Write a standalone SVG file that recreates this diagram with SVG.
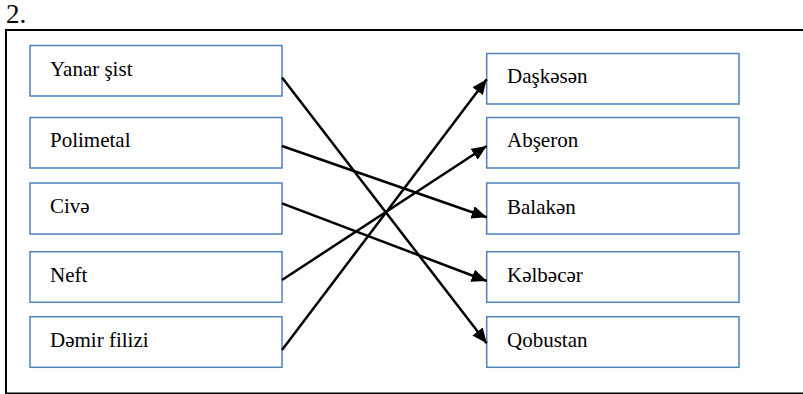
<svg xmlns="http://www.w3.org/2000/svg" width="803" height="394" viewBox="0 0 803 394">
<style>
.box{fill:#fff;stroke:#4f81bd;stroke-width:1.5}
.con{stroke:#000;stroke-width:2.5;fill:none;marker-end:url(#ah)}
</style>
<defs>
<marker id="ah" markerUnits="userSpaceOnUse" markerWidth="15" markerHeight="13" refX="15" refY="6.5" orient="auto">
<path d="M0,0 L15,6.5 L0,13 Z" fill="#000"/>
</marker>
</defs>
<rect width="803" height="394" fill="#fff"/>
<text x="6" y="23" font-family="'Liberation Serif', serif" font-size="27">2.</text>
<path d="M820,30 H6 V393.5 H820" fill="none" stroke="#000" stroke-width="2"/>
<g font-family="'Liberation Serif', serif" font-size="21" fill="#000">
<g id="n-yanar"><rect class="box" x="30" y="45.5" width="252" height="50.5"/><text x="50" y="76">Yanar şist</text></g>
<g id="n-polimetal"><rect class="box" x="30" y="117.5" width="252" height="50.5"/><text x="50" y="147">Polimetal</text></g>
<g id="n-cive"><rect class="box" x="30" y="183" width="252" height="51"/><text x="50" y="213">Civə</text></g>
<g id="n-neft"><rect class="box" x="30" y="251.7" width="252" height="50.6"/><text x="50" y="282">Neft</text></g>
<g id="n-demir"><rect class="box" x="30" y="316.7" width="252" height="50.6"/><text x="50" y="347">Dəmir filizi</text></g>
<g id="n-daskesen"><rect class="box" x="486.7" y="53.5" width="252.3" height="50.5"/><text x="507" y="83">Daşkəsən</text></g>
<g id="n-abseron"><rect class="box" x="486.7" y="117.5" width="252.3" height="50.5"/><text x="507" y="147">Abşeron</text></g>
<g id="n-balaken"><rect class="box" x="486.7" y="183" width="252.3" height="51"/><text x="507" y="214">Balakən</text></g>
<g id="n-kelbecer"><rect class="box" x="486.7" y="251.7" width="252.3" height="50.6"/><text x="507" y="282">Kəlbəcər</text></g>
<g id="n-qobustan"><rect class="box" x="486.7" y="316.7" width="252.3" height="50.6"/><text x="507" y="347">Qobustan</text></g>
</g>
<g id="connectors">
<line class="con" x1="282" y1="77.5" x2="486.7" y2="343.3"/>
<line class="con" x1="282" y1="146" x2="486.7" y2="217.3"/>
<line class="con" x1="282" y1="203.3" x2="486.7" y2="281"/>
<line class="con" x1="282" y1="280" x2="486.7" y2="146"/>
<line class="con" x1="282" y1="350" x2="486.7" y2="79.3"/>
</g>
</svg>
